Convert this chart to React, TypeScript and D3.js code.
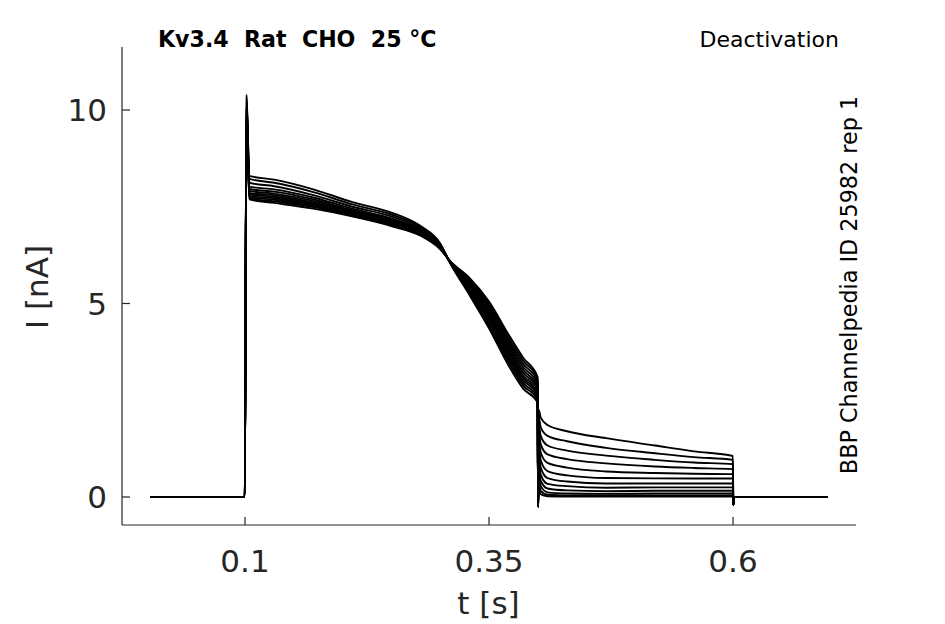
import * as d3 from "d3";

const W = 945;
const H = 624;

// time points of the pulse (s) and tail (s)
const baseTimes = [0.003, 0.0998];
const spikeTime = 0.1015;
const pulseTimes = [0.1045, 0.13, 0.17, 0.21, 0.25, 0.28, 0.3, 0.31, 0.33, 0.35, 0.37, 0.385, 0.3998];
const dipTime = 0.4003;
const tailTimes = [0.401, 0.403, 0.41, 0.43, 0.47, 0.52, 0.56, 0.5998];
const endTimes = [0.6003, 0.6012, 0.697];

// currents (nA)
const spikePeak = [10.4, 10.35, 10.3, 10.25, 10.2, 10.15, 10.1, 10.05, 10.0, 9.95, 9.9, 9.85];
const pulseValues = [
  [8.3, 8.2, 7.95, 7.62, 7.35, 7.0, 6.55, 6.05, 5.22, 4.36, 3.4, 2.8, 2.45],
  [8.22, 8.12, 7.88, 7.56, 7.3, 6.97, 6.54, 6.06, 5.27, 4.42, 3.48, 2.88, 2.52],
  [8.12, 8.03, 7.8, 7.5, 7.25, 6.93, 6.52, 6.06, 5.31, 4.5, 3.56, 2.95, 2.58],
  [8.02, 7.95, 7.74, 7.45, 7.2, 6.9, 6.5, 6.07, 5.35, 4.57, 3.63, 3.02, 2.64],
  [7.96, 7.89, 7.69, 7.41, 7.17, 6.87, 6.49, 6.07, 5.39, 4.63, 3.7, 3.08, 2.7],
  [7.91, 7.84, 7.65, 7.38, 7.14, 6.85, 6.48, 6.08, 5.43, 4.69, 3.77, 3.14, 2.76],
  [7.86, 7.8, 7.61, 7.35, 7.11, 6.83, 6.47, 6.08, 5.46, 4.75, 3.84, 3.21, 2.82],
  [7.82, 7.76, 7.58, 7.32, 7.09, 6.81, 6.46, 6.08, 5.5, 4.81, 3.91, 3.28, 2.87],
  [7.78, 7.72, 7.55, 7.3, 7.06, 6.79, 6.45, 6.09, 5.54, 4.87, 3.98, 3.36, 2.93],
  [7.75, 7.68, 7.52, 7.28, 7.04, 6.78, 6.44, 6.09, 5.58, 4.93, 4.05, 3.44, 2.99],
  [7.72, 7.64, 7.49, 7.26, 7.02, 6.76, 6.42, 6.1, 5.62, 4.99, 4.12, 3.52, 3.05],
  [7.69, 7.6, 7.45, 7.25, 7.0, 6.75, 6.4, 6.1, 5.66, 5.05, 4.2, 3.6, 3.1],
];
const dipValue = -0.25;
const tailValues = [
  [2.25, 2.05, 1.86, 1.7, 1.52, 1.33, 1.18, 1.06],
  [2.05, 1.8, 1.58, 1.44, 1.27, 1.13, 1.03, 0.96],
  [1.85, 1.58, 1.33, 1.2, 1.07, 0.96, 0.89, 0.85],
  [1.65, 1.36, 1.1, 0.98, 0.87, 0.79, 0.75, 0.72],
  [1.45, 1.15, 0.88, 0.76, 0.66, 0.62, 0.6, 0.59],
  [1.25, 0.95, 0.67, 0.56, 0.49, 0.48, 0.48, 0.48],
  [1.05, 0.76, 0.49, 0.4, 0.35, 0.35, 0.35, 0.35],
  [0.85, 0.58, 0.34, 0.28, 0.24, 0.25, 0.25, 0.25],
  [0.65, 0.42, 0.22, 0.17, 0.15, 0.16, 0.16, 0.16],
  [0.48, 0.28, 0.12, 0.09, 0.08, 0.09, 0.09, 0.09],
  [0.32, 0.16, 0.06, 0.04, 0.04, 0.04, 0.04, 0.04],
  [0.18, 0.07, 0.02, 0.01, 0.01, 0.01, 0.01, 0.01],
];
const endValues = [-0.2, 0, 0];

const xTicks = [0.1, 0.35, 0.6];
const yTicks = [0, 5, 10];

const axisColor = "#262626";
const font = "DejaVu Sans, sans-serif";

export default function App() {
  const left = 122, right = 856, top = 47, bottom = 525;
  const x = d3.scaleLinear().domain([-0.026, 0.726]).range([left, right]);
  const y = d3.scaleLinear().domain([-0.7235, 11.628]).range([bottom, top]);

  const line = d3
    .line<[number, number]>()
    .x((d) => x(d[0]))
    .y((d) => y(d[1]))
    .curve(d3.curveMonotoneX);

  const traces = pulseValues.map((pv, i) => {
    const pts: [number, number][] = [];
    baseTimes.forEach((t) => pts.push([t, 0]));
    pts.push([spikeTime, spikePeak[i]]);
    pulseTimes.forEach((t, j) => pts.push([t, pv[j]]));
    pts.push([dipTime, dipValue]);
    tailTimes.forEach((t, j) => pts.push([t, tailValues[i][j]]));
    endTimes.forEach((t, j) => pts.push([t, endValues[j]]));
    return pts;
  });

  return (
    <svg
      width={W}
      height={H}
      style={{ position: "absolute", left: 0, top: 0, background: "#fff" }}
      fontFamily={font}
    >
      <rect width={W} height={H} fill="#fff" />
      {traces.map((pts, i) => (
        <path
          key={i}
          d={line(pts) || ""}
          fill="none"
          stroke="#000"
          strokeWidth={1.9}
          strokeLinejoin="round"
        />
      ))}

      {/* axes */}
      <line x1={left} x2={left} y1={top} y2={bottom} stroke={axisColor} strokeWidth={1.2} />
      <line x1={left} x2={right} y1={bottom} y2={bottom} stroke={axisColor} strokeWidth={1.2} />
      {yTicks.map((v) => (
        <g key={"y" + v}>
          <line x1={left} x2={left + 8} y1={y(v)} y2={y(v)} stroke={axisColor} strokeWidth={1.2} />
          <text
            x={left - 15}
            y={y(v)}
            dy="0.36em"
            textAnchor="end"
            fontSize={31}
            fill={axisColor}
          >
            {v}
          </text>
        </g>
      ))}
      {xTicks.map((v) => (
        <g key={"x" + v}>
          <line x1={x(v)} x2={x(v)} y1={bottom} y2={bottom - 8} stroke={axisColor} strokeWidth={1.2} />
          <text x={x(v)} y={572} textAnchor="middle" fontSize={31} fill={axisColor}>
            {v}
          </text>
        </g>
      ))}

      <text x={(left + right) / 2 - 0.5} y={614} textAnchor="middle" fontSize={31} fill={axisColor}>
        t [s]
      </text>
      <text
        transform="translate(48,287) rotate(-90)"
        textAnchor="middle"
        fontSize={31}
        fill={axisColor}
      >
        I [nA]
      </text>

      <text x={158} y={47} fontSize={22.1} fontWeight="bold" fill="#000" style={{ whiteSpace: "pre" }}>
        {"Kv3.4  Rat  CHO  25 °C"}
      </text>
      <text x={839} y={47} fontSize={22} textAnchor="end" fill="#000">
        Deactivation
      </text>
      <text
        transform="translate(857,285) rotate(-90)"
        textAnchor="middle"
        fontSize={22.3}
        fill="#000"
      >
        BBP Channelpedia ID 25982 rep 1
      </text>
    </svg>
  );
}
